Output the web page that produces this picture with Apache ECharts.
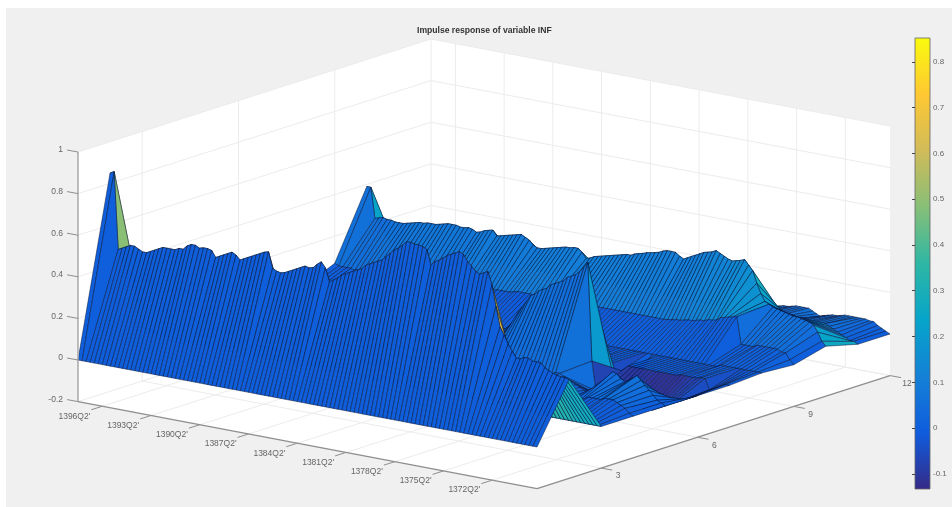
<!DOCTYPE html>
<html>
<head>
<meta charset="utf-8">
<script src="https://cdn.jsdelivr.net/npm/echarts@6/dist/echarts.min.js"></script>
<style>
  html, body { margin: 0; padding: 0; background: #fff; }
  #main { width: 952px; height: 507px; }
</style>
</head>
<body>
<div id="main"></div>
<script>
// impulse response surface
// one list per horizon, each has one value per quarter (114)
const hRow1 = [
  0,0,0,0,0,0,0,0,0,0, 0,0,0,0,0,0,0,0,0,0, 0,0,0,0,0,0,0,0,0,0,
  0,0,0,0,0,0,0,0,0,0, 0,0,0,0,0,0,0,0,0,0, 0,0,0,0,0,0,0,0,0,0,
  0,0,0,0,0,0,0,0,0,0, 0,0,0,0,0,0,0,0,0,0, 0,0,0,0,0,0,0,0,0,0,
  0,0,0,0,0,0,0,0,0,0, 0,0,0,0,0,0,0,0,0,0, 0,0,0,0
];
const hRow2 = [
  .85,.86,.49,.50,.51,.52,.52,.51,.50,.50,
  .51,.52,.53,.54,.54,.54,.54,.55,.55,.57,
  .58,.58,.57,.575,.575,.57,.54,.55,.56,.57,
  .58,.57,.55,.56,.57,.58,.59,.60,.61,.615,
  .54,.53,.525,.53,.54,.55,.56,.57,.58,.575,
  .58,.60,.615,.59,.525,.54,.55,.57,.58,.59,
  .60,.61,.62,.64,.65,.66,.67,.68,.70,.72,
  .74,.75,.77,.79,.79,.785,.785,.78,.77,.70,
  .72,.73,.745,.76,.77,.78,.79,.78,.75,.73,
  .71,.70,.71,.72,.66,.56,.465,.43,.39,.36,
  .33,.33,.34,.34,.33,.33,.33,.31,.30,.29,
  .285,.28,.28,.275
];
const hRow3 = [
  .06,.05,.04,.04,.03,.03,.03,.02,.02,.02,
  .02,.03,.02,.02,.03,.03,.02,.02,.02,.03,
  .03,.02,.02,.03,.03,.02,.02,.02,.03,.03,
  .02,.02,.03,.02,.02,.03,.03,.02,.02,.02,
  .03,.03,.02,.02,.03,.02,.02,.03,.03,.02,
  .02,.02,.03,.03,.02,.02,.03,.02,.02,.03,
  .03,.02,.02,.02,.03,.03,.02,.02,.03,.02,
  .02,.03,.03,.02,.02,.02,.03,.02,.02,.02,
  .02,.02,.01,.02,.02,.01,.01,.02,.01,.01,
  .01,.01,.01,.01,.01,.01,.01,.01,.01,.01,
  0,0,0,0,0,0,0,0,0,0,
  0,0,0,0
];
const hRow4 = [
  .04,.04,.03,.03,.03,.03,.03,.03,.03,.03,
  .03,.03,.03,.03,.04,.03,.03,.03,.03,.03,
  .03,.03,.04,.03,.03,.03,.03,.03,.03,.03,
  .03,.04,.03,.03,.03,.03,.03,.03,.03,.03,
  .03,.03,.03,.04,.03,.03,.03,.03,.03,.03,
  .03,.03,.03,.03,.04,.03,.03,.03,.03,.03,
  .03,.03,.03,.03,.03,.03,.04,.03,.03,.03,
  .03,.03,.03,.03,.03,.03,.03,.03,.03,.03,
  .03,.03,.03,.03,.03,.03,.03,.03,.03,.03,
  .03,.03,.03,.03,.03,.03,.03,.03,.03,.03,
  .03,.04,.05,.05,.05,.05,.06,.06,.06,.05,
  .04,.03,.01,0
];
const hRow5 = [
  .05,.05,.05,.05,.04,.04,.05,.05,.05,.05,
  .05,.04,.05,.05,.05,.05,.05,.05,.04,.05,
  .05,.05,.05,.05,.05,.04,.05,.05,.05,.05,
  .05,.05,.05,.04,.05,.05,.05,.05,.05,.05,
  .05,.05,.04,.05,.05,.05,.05,.05,.05,.05,
  .05,.04,.05,.05,.05,.05,.05,.05,.05,.05,
  .05,.05,.05,.05,.05,.05,.05,.05,.05,.05,
  .05,.05,.05,.05,.05,.05,.05,.05,.05,.05,
  .05,.05,.05,.05,.05,.05,.06,.06,.05,.04,
  .03,.02,.01,0,-.02,-.03,0,.03,.06,.09,
  .115,.11,.09,.08,.09,.105,.12,.10,.08,.06,
  .04,.02,.01,0
];
const hRow6 = [
  .06,.06,.05,.05,.05,.05,.05,.05,.05,.05,
  .05,.05,.05,.05,.05,.05,.05,.05,.05,.05,
  .05,.05,.05,.05,.05,.05,.05,.05,.05,.05,
  .05,.05,.05,.05,.05,.05,.05,.05,.05,.05,
  .06,.06,.06,.06,.06,.06,.06,.06,.06,.06,
  .07,.07,.07,.08,.08,.08,.09,.09,.09,.09,
  .10,.10,.11,.12,.13,.14,.15,.17,.20,.24,
  .27,.30,.33,.34,.36,.37,.38,.40,.41,.42,
  .43,.45,.46,.47,.49,.51,.54,.07,-.07,-.09,
  -.10,-.10,-.10,-.10,-.10,-.10,-.11,-.11,-.11,-.11,
  -.11,-.11,-.11,-.10,-.09,-.08,-.07,-.06,-.05,-.04,
  -.03,-.02,-.01,0
];
const hRow7 = [
  -.01,-.01,-.01,-.01,-.01,-.01,-.01,-.01,-.01,-.01,
  -.01,-.01,-.01,-.01,-.01,-.01,-.01,-.01,-.01,-.01,
  -.01,-.01,-.01,-.01,-.01,-.01,-.01,-.01,-.01,-.01,
  -.01,-.01,-.01,-.01,-.01,-.01,-.01,-.01,-.01,-.01,
  -.01,-.01,-.01,-.01,-.01,-.01,-.01,-.01,-.01,-.01,
  -.01,-.01,-.01,-.01,-.01,-.01,-.01,-.01,-.01,-.01,
  -.01,-.01,-.01,-.01,-.01,-.01,-.01,-.01,-.01,-.01,
  -.01,-.01,-.01,-.01,-.01,-.01,-.01,-.01,-.01,-.01,
  0,0,0,0,0,-.05,-.2,-.03,0,0,
  0,0,0,0,0,0,0,0,0,0,
  0,.005,.005,.005,.005,.005,.01,.01,-.04,-.03,
  -.02,-.01,0,0
];
const hRow8 = [
  0,0,0,0,0,0,0,0,0,0,
  0,0,0,0,0,0,0,0,0,0,
  0,0,0,0,0,0,0,0,0,0,
  -.01,-.01,-.01,-.01,-.01,-.01,-.01,-.01,-.01,-.01,
  -.01,-.01,-.01,-.01,-.01,-.01,-.01,-.01,-.01,-.01,
  -.01,-.01,-.01,-.01,-.01,-.01,-.01,-.01,-.01,-.01,
  -.01,-.01,-.01,-.01,-.01,-.01,-.01,-.01,-.01,-.01,
  0,0,0,0,0,0,0,0,0,0,
  0,0,0,0,0,0,0,0,0,0,
  0,0,0,0,0,0,0,0,0,0,
  0,0,0,.01,.01,.01,.01,.01,.01,.01,
  .01,.01,.01,.01
];
const hRow9 = [
  .07,.06,.06,.06,.06,.055,.06,.06,.07,.07,
  .07,.07,.08,.08,.08,.08,.08,.08,.08,.08,
  .08,.08,.08,.08,.08,.08,.08,.08,.08,.09,
  .09,.09,.09,.09,.09,.09,.09,.09,.085,.085,
  .09,.09,.09,.09,.095,.10,.10,.10,.10,.10,
  .10,.10,.10,.10,.10,.10,.10,.10,.10,.10,
  .10,.10,.10,.10,.10,.10,.10,.10,.10,.10,
  .10,.10,.10,.10,.10,.10,.10,.10,.10,.10,
  .10,.10,.103,.105,.11,.11,.115,.12,.12,.125,
  .13,.13,.14,.14,.145,.16,.165,.17,.175,.18,
  .05,.05,.05,.05,.06,.06,.06,.06,.06,.06,
  .05,.05,.02,0
];
const hRow10 = [
  .39,.39,.243,.25,.255,.25,.25,.245,.245,.245,
  .25,.255,.26,.265,.265,.27,.27,.27,.275,.28,
  .285,.285,.285,.28,.28,.285,.28,.27,.275,.285,
  .29,.295,.27,.275,.28,.285,.29,.295,.30,.29,
  .28,.26,.25,.25,.255,.26,.265,.27,.275,.28,
  .28,.285,.285,.27,.243,.25,.26,.265,.27,.275,
  .28,.285,.29,.295,.30,.30,.31,.315,.32,.327,
  .33,.335,.34,.35,.355,.355,.354,.34,.33,.34,
  .35,.36,.37,.38,.385,.39,.40,.39,.38,.37,
  .365,.37,.375,.383,.36,.337,.28,.234,.20,.19,
  .18,.175,.17,.165,.16,.155,.155,.15,.145,.14,
  .13,.10,.06,.04
];
const hRow11 = [
  -.04,-.04,0,.03,.05,.06,.06,.06,.06,.06,
  .06,.06,.06,.06,.06,.06,.06,.06,.06,.06,
  .06,.06,.06,.06,.06,.06,.06,.06,.06,.06,
  .06,.06,.06,.06,.06,.06,.06,.06,.06,.06,
  .06,.06,.06,.06,.06,.06,.06,.06,.06,.06,
  .06,.06,.06,.06,.06,.06,.06,.06,.06,.06,
  .06,.06,.06,.06,.06,.06,.06,.06,.06,.06,
  .06,.06,.06,.06,.06,.06,.06,.06,.06,.06,
  .06,.06,.06,.06,.06,.06,.06,.06,.06,.06,
  .06,.06,.06,.06,.06,.06,.06,.06,.06,.06,
  .06,.06,.06,.06,.06,.07,.06,.05,.04,.03,
  .02,.01,.01,0
];
const hRow12 = [
  .03,.03,.03,.03,.03,.03,.03,.03,.03,.03,
  .03,.03,.03,.03,.03,.03,.03,.03,.03,.03,
  .03,.03,.03,.03,.03,.03,.03,.03,.03,.03,
  .03,.03,.03,.03,.03,.03,.03,.03,.03,.03,
  .03,.03,.03,.03,.03,.03,.03,.03,.03,.03,
  .03,.03,.03,.03,.03,.03,.03,.03,.03,.03,
  .03,.03,.03,.03,.03,.03,.03,.03,.03,.03,
  .03,.03,.03,.03,.03,.03,.03,.03,.03,.03,
  .03,.03,.03,.03,.03,.03,.035,.04,.04,.045,
  .05,.05,.05,.05,.04,.03,.02,.03,.035,.04,
  .04,.045,.05,.05,.05,.05,.05,.05,.045,.045,
  .03,.02,.01,0
];
const surfaceRows = [hRow1, hRow2, hRow3, hRow4, hRow5, hRow6, hRow7, hRow8, hRow9, hRow10, hRow11, hRow12];

// facets whose colour in the picture is not their own height: [row, quarter, value]
const facetColorFixes = [
  [1, 93, .78], [1, 94, .76], [1, 95, .7],
  [5, 85, .2], [5, 86, .2],
  [6, 85, 0],
  [9, 110, .22], [9, 111, .24], [9, 112, .26]
];

const timeTickIndex = [6, 18, 30, 42, 54, 66, 78, 90, 102];
const timeTickLabels = ["1396Q2'", "1393Q2'", "1390Q2'", "1387Q2'", "1384Q2'", "1381Q2'", "1378Q2'", "1375Q2'", "1372Q2'"];
const horizonTicks = [3, 6, 9, 12];
const zTicks = [-0.2, 0, 0.2, 0.4, 0.6, 0.8, 1];
const colorbarTicks = [-0.1, 0, 0.1, 0.2, 0.3, 0.4, 0.5, 0.6, 0.7, 0.8];
const colorMin = -0.133;
const colorMax = 0.852;
const parula = ['#352a87', '#0f5cdd', '#1481d6', '#06a4ca', '#2eb7a4', '#87bf77', '#d1bb59', '#fec832', '#f9fb0e'];

// view of the MATLAB box, in page units of the hidden grid
const lastQuarter = 113;
const view = { x0: 78, y0: 360, tx: 459 / 113, ty: 87 / 113, hx: 353 / 11, hy: -113 / 11, zy: 208 };
const project = (t, h, z) => [
  view.x0 + t * view.tx + (h - 1) * view.hx,
  view.y0 + t * view.ty + (h - 1) * view.hy - z * view.zy
];

const faceColor = (v) => {
  const n = Math.min(1, Math.max(0, (v - colorMin) / (colorMax - colorMin)));
  return echarts.color.lerp(n, parula);
};

const colorFix = {};
facetColorFixes.forEach((f) => { colorFix[f[0] + '_' + f[1]] = f[2]; });

// back to front so nearer facets paint over farther ones
const cells = [];
for (let r = surfaceRows.length - 2; r >= 0; r--) {
  for (let t = 0; t < lastQuarter; t++) {
    cells.push([r, t]);
  }
}

const GRID_LINE = '#ececec';
const AXIS_LINE = '#8e8e8e';
const TICK_TEXT = '#666';
const bottomZ = zTicks[0];
const topZ = zTicks[zTicks.length - 1];

const renderBox = (params, api) => {
  const p = (t, h, z) => api.coord(project(t, h, z));
  const poly = (pts) => ({ type: 'polygon', shape: { points: pts }, style: { fill: '#fff' } });
  const line = (a, b, color, w) => ({
    type: 'line',
    shape: { x1: a[0], y1: a[1], x2: b[0], y2: b[1] },
    style: { stroke: color, lineWidth: w }
  });
  const kids = [
    poly([p(0, 1, bottomZ), p(0, 1, topZ), p(0, 12, topZ), p(0, 12, bottomZ)]),
    poly([p(0, 12, bottomZ), p(0, 12, topZ), p(lastQuarter, 12, topZ), p(lastQuarter, 12, bottomZ)]),
    poly([p(0, 1, bottomZ), p(lastQuarter, 1, bottomZ), p(lastQuarter, 12, bottomZ), p(0, 12, bottomZ)])
  ];
  zTicks.forEach((z) => {
    kids.push(line(p(0, 1, z), p(0, 12, z), GRID_LINE, 1));
    kids.push(line(p(0, 12, z), p(lastQuarter, 12, z), GRID_LINE, 1));
  });
  horizonTicks.forEach((h) => {
    kids.push(line(p(0, h, bottomZ), p(0, h, topZ), GRID_LINE, 1));
    kids.push(line(p(0, h, bottomZ), p(lastQuarter, h, bottomZ), GRID_LINE, 1));
  });
  timeTickIndex.forEach((t) => {
    kids.push(line(p(t, 12, bottomZ), p(t, 12, topZ), GRID_LINE, 1));
    kids.push(line(p(t, 1, bottomZ), p(t, 12, bottomZ), GRID_LINE, 1));
  });
  return { type: 'group', children: kids };
};

const renderCell = (params, api) => {
  const r = api.value(0);
  const t = api.value(1);
  const pts = [
    project(t, r + 1, surfaceRows[r][t]),
    project(t + 1, r + 1, surfaceRows[r][t + 1]),
    project(t + 1, r + 2, surfaceRows[r + 1][t + 1]),
    project(t, r + 2, surfaceRows[r + 1][t])
  ].map((q) => api.coord(q));
  const fix = colorFix[r + '_' + t];
  const v = fix !== undefined ? fix : surfaceRows[r][t + 1];
  return {
    type: 'polygon',
    shape: { points: pts },
    style: { fill: faceColor(v), stroke: 'rgba(8,22,60,0.75)', lineWidth: 0.7, lineJoin: 'round' }
  };
};

const renderAxes = (params, api) => {
  const p = (t, h, z) => api.coord(project(t, h, z));
  const line = (a, b, color, w) => ({
    type: 'line',
    shape: { x1: a[0], y1: a[1], x2: b[0], y2: b[1] },
    style: { stroke: color, lineWidth: w }
  });
  const text = (x, y, s, align) => ({
    type: 'text',
    style: {
      x: x, y: y, text: s, fill: TICK_TEXT, font: '8.5px "Liberation Sans", Arial, sans-serif',
      align: align, verticalAlign: 'middle', textAlign: align, textVerticalAlign: 'middle'
    }
  });
  const kids = [
    line(p(0, 1, bottomZ), p(0, 1, topZ), '#a8a8a8', 1.5),
    line(p(0, 1, bottomZ), p(lastQuarter, 1, bottomZ), AXIS_LINE, 1.3),
    line(p(lastQuarter, 1, bottomZ), p(lastQuarter, 12, bottomZ), AXIS_LINE, 1.3)
  ];
  zTicks.forEach((z) => {
    const a = p(0, 1, z);
    kids.push(line(a, [a[0] - 11, a[1] - 2], AXIS_LINE, 1));
    kids.push(text(a[0] - 15, a[1] - 2, String(z), 'right'));
  });
  timeTickIndex.forEach((t, i) => {
    const a = p(t, 1, bottomZ);
    kids.push(line(a, [a[0] - 11, a[1] + 3.5], AXIS_LINE, 1));
    kids.push(text(a[0] - 28, a[1] + 10, timeTickLabels[i], 'center'));
  });
  horizonTicks.forEach((h) => {
    const a = p(lastQuarter, h, bottomZ);
    kids.push(line(a, [a[0] + 11, a[1] + 2], AXIS_LINE, 1));
    kids.push(text(a[0] + 17, a[1] + 8, String(h), 'center'));
  });
  return { type: 'group', children: kids };
};

const renderColorbar = (params, api) => {
  const a = api.coord([0, colorMax]);
  const b = api.coord([1, colorMin]);
  const stops = parula.map((c, i) => ({ offset: i / (parula.length - 1), color: c }));
  return {
    type: 'rect',
    shape: { x: a[0], y: a[1], width: b[0] - a[0], height: b[1] - a[1] },
    style: { fill: new echarts.graphic.LinearGradient(0, 1, 0, 0, stops), stroke: '#666', lineWidth: 0.8 }
  };
};

const chart = echarts.init(document.getElementById('main'));
chart.setOption({
  backgroundColor: '#fff',
  animation: false,
  title: {
    text: 'Impulse response of variable INF',
    left: 417,
    top: 26,
    padding: 0,
    textStyle: { fontSize: 8.6, fontWeight: 'bold', color: '#333', fontFamily: 'Liberation Sans' }
  },
  graphic: [{
    type: 'rect',
    z: -10,
    shape: { x: 6, y: 8, width: 946, height: 499 },
    style: { fill: '#f0f0f0' }
  }],
  grid: [
    { left: 0, top: 0, width: 952, height: 507 },
    { left: 915, top: 38, width: 15, height: 451 }
  ],
  xAxis: [
    { type: 'value', gridIndex: 0, min: 0, max: 952, show: false },
    { type: 'value', gridIndex: 1, min: 0, max: 1, show: false }
  ],
  yAxis: [
    { type: 'value', gridIndex: 0, min: 0, max: 507, inverse: true, show: false },
    {
      type: 'value',
      gridIndex: 1,
      min: colorMin,
      max: colorMax,
      position: 'right',
      z: 5,
      splitLine: { show: false },
      axisLine: { show: false },
      axisTick: { inside: true, length: 3, customValues: colorbarTicks, lineStyle: { color: '#444' } },
      axisLabel: { customValues: colorbarTicks, color: TICK_TEXT, fontSize: 8, margin: 3, fontFamily: 'Liberation Sans' }
    }
  ],
  series: [
    { type: 'custom', xAxisIndex: 0, yAxisIndex: 0, silent: true, z: 1, data: [[0, 0]], renderItem: renderBox },
    { type: 'custom', xAxisIndex: 0, yAxisIndex: 0, silent: true, z: 2, data: cells, renderItem: renderCell },
    { type: 'custom', xAxisIndex: 0, yAxisIndex: 0, silent: true, z: 3, data: [[0, 0]], renderItem: renderAxes },
    { type: 'custom', xAxisIndex: 1, yAxisIndex: 1, silent: true, z: 2, data: [[0, 0]], renderItem: renderColorbar }
  ]
});
</script>
</body>
</html>
